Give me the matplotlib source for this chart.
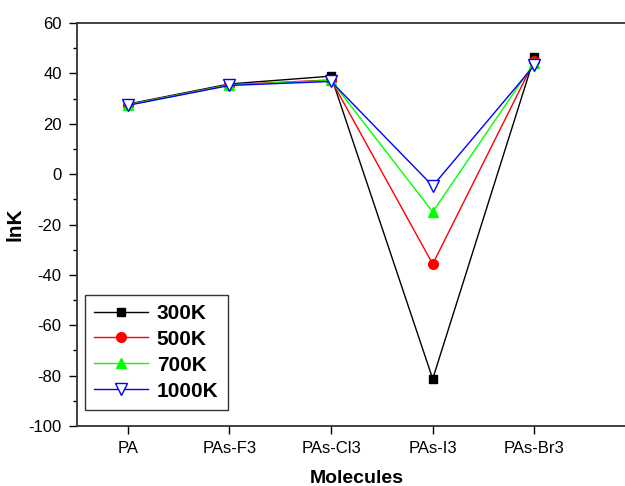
import matplotlib.pyplot as plt
from matplotlib.ticker import MultipleLocator

plt.rcParams['font.family'] = ['Liberation Sans', 'DejaVu Sans']
plt.rcParams['axes.unicode_minus'] = False

molecules = ["PA", "PAs-F3", "PAs-Cl3", "PAs-I3", "PAs-Br3"]
lnk_300 = [27.8, 35.8, 38.9, -81.3, 46.5]
lnk_500 = [27.6, 35.5, 37.4, -35.7, 45.0]
lnk_700 = [27.5, 35.4, 37.2, -15.0, 44.3]
lnk_1000 = [27.3, 35.2, 36.8, -4.7, 43.2]

x = list(range(len(molecules)))

fig = plt.figure(figsize=(6.25, 4.86), dpi=100)
ax = fig.add_axes([77 / 625, 60 / 486, 559 / 625, 403 / 486])

ax.plot(x, lnk_300, color="black", marker="s", markersize=6, lw=1, label="300K")
ax.plot(x, lnk_500, color="red", marker="o", markersize=7, lw=1, label="500K")
ax.plot(x, lnk_700, color="#00ff00", marker="^", markersize=7, lw=1, label="700K")
ax.plot(x, lnk_1000, color="blue", marker="v", markersize=8, lw=1,
        markerfacecolor="white", label="1000K")

ax.set_xlim(-0.5, 5.0)
ax.set_ylim(-100, 60)
ax.set_xticks(x)
ax.set_xticklabels(molecules)
ax.yaxis.set_major_locator(MultipleLocator(20))
ax.yaxis.set_minor_locator(MultipleLocator(10))
ax.tick_params(axis="both", which="major", labelsize=12, length=6, width=1,
               direction="out", pad=5)
ax.tick_params(axis="y", which="minor", length=3, width=1, direction="out")
ax.tick_params(top=False, right=False)

for s in ax.spines.values():
    s.set_linewidth(1.3)
    s.set_color("#333333")

ax.set_xlabel("Molecules", fontsize=14, fontweight="bold", labelpad=10)
ax.set_ylabel("lnK", fontsize=15, fontweight="bold", labelpad=3)

leg = ax.legend(loc="lower left", bbox_to_anchor=(0.014, 0.04), borderaxespad=0,
                prop={"weight": "bold", "size": 15}, frameon=True, fancybox=False,
                edgecolor="black", handlelength=2.6, handletextpad=0.4,
                borderpad=0.45, labelspacing=0.33)
leg.get_frame().set_linewidth(1.0)

fig.savefig("out.png", dpi=100)
